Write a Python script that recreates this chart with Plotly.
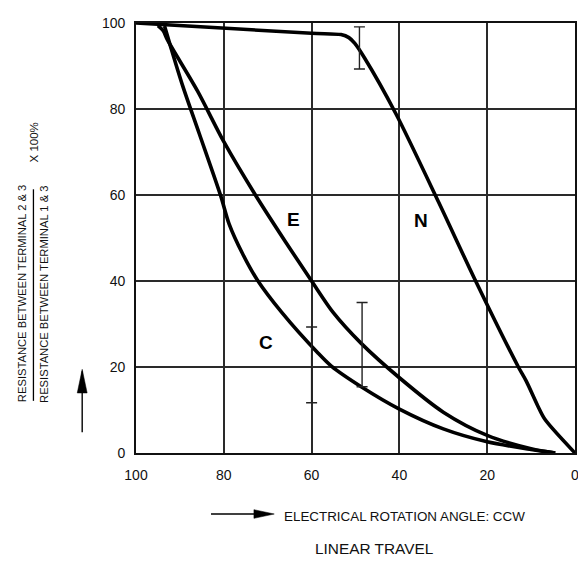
import plotly.graph_objects as go

# ---- data ----
ticks = [100, 80, 60, 40, 20, 0]
tick_text = ["100", "80", "60", "40", "20", "0"]

n_x = [100, 60, 53.3, 51.5, 50.2, 47.9, 40.8, 31, 23.1, 12.9, 11.1, 8.5, 6.9, 0]
n_y = [100, 97.6, 97.3, 96.6, 95.3, 91.8, 78.9, 58.2, 41.0, 20, 16.7, 11, 7.9, 0]

e_x = [95, 93.8, 92.8, 86, 80, 72.8, 66, 60, 55.1, 48.7, 40, 30, 20, 10, 4.5]
e_y = [99.4, 98.2, 96, 84.2, 72.4, 60, 49.2, 40, 32.7, 25.5, 17.5, 9.5, 4.1, 1.0, 0]

c_x = [93.5, 92.0, 89.4, 85.6, 80.7, 78.8, 75.8, 72.4, 66.8, 58.5, 55.5, 48.7, 40, 30, 20, 10, 4.5]
c_y = [99.3, 94.1, 85.5, 74.3, 59.8, 53.3, 46.5, 40.3, 32.7, 23.2, 20.2, 15.4, 10.2, 5.6, 2.6, 0.8, 0]

# tolerance bars: x position, low, high
tol_x = [60, 48.5, 49.1]
tol_lo = [11.7, 15.4, 89.3]
tol_hi = [29.3, 35.0, 99.1]

curve_labels = ["E", "N", "C"]
label_x = [64.1, 35.0, 70.3]
label_y = [54.4, 54.0, 25.7]

# ---- layout geometry (window pixels; page body has an 8px margin) ----
OFF = 8
WIN_W, WIN_H = 586, 562
L, R, T, B = 136, 579, 16, 453
W, H = WIN_W - OFF, WIN_H - OFF
def px(x):
    return (x - L) / (R - L)
def py(y):
    return (B - y) / (B - T)

SANS = "Liberation Sans, Arial, sans-serif"

fig = go.Figure()

for xs, ys in [(n_x, n_y), (e_x, e_y), (c_x, c_y)]:
    fig.add_trace(go.Scatter(x=xs, y=ys, mode="lines",
                             line=dict(color="black", width=3.6, shape="spline", smoothing=0.8),
                             cliponaxis=False, hoverinfo="skip", showlegend=False))

mid = [(lo + hi) / 2 for lo, hi in zip(tol_lo, tol_hi)]
half = [(hi - lo) / 2 for lo, hi in zip(tol_lo, tol_hi)]
fig.add_trace(go.Scatter(x=tol_x, y=mid, mode="markers",
                         marker=dict(size=1, color="rgba(0,0,0,0)"),
                         error_y=dict(type="data", array=half, symmetric=True,
                                      color="#222", thickness=1.4, width=5.5),
                         cliponaxis=False, hoverinfo="skip", showlegend=False))

for t, x, y in zip(curve_labels, label_x, label_y):
    fig.add_annotation(x=x, y=y, text="<b>%s</b>" % t, showarrow=False,
                       font=dict(family=SANS, size=19, color="black"))

# y-axis title as a fraction
fig.add_annotation(xref="paper", yref="paper", x=px(21), y=py(291.5), textangle=-90,
                   text="RESISTANCE BETWEEN TERMINAL 2 &amp; 3", showarrow=False,
                   xanchor="center", yanchor="middle",
                   font=dict(family=SANS, size=11.2, color="#111"))
fig.add_annotation(xref="paper", yref="paper", x=px(42.5), y=py(292), textangle=-90,
                   text="RESISTANCE BETWEEN TERMINAL 1 &amp; 3", showarrow=False,
                   xanchor="center", yanchor="middle",
                   font=dict(family=SANS, size=11.2, color="#111"))
fig.add_annotation(xref="paper", yref="paper", x=px(33), y=py(137.5), textangle=-90,
                   text="X 100%", showarrow=False, xanchor="center", yanchor="middle",
                   font=dict(family=SANS, size=11.5, color="#111"))
fig.add_shape(type="line", xref="paper", yref="paper", x0=px(32.5), x1=px(32.5),
              y0=py(185), y1=py(400), line=dict(color="black", width=1.3))

# vertical arrow
fig.add_shape(type="line", xref="paper", yref="paper", x0=px(81.7), x1=px(81.7),
              y0=py(432), y1=py(370), line=dict(color="black", width=1.4))
fig.add_shape(type="path", xref="paper", yref="paper",
              path="M %f %f L %f %f L %f %f Z" % (px(76.7), py(392), px(86.7), py(392), px(81.7), py(368)),
              fillcolor="black", line=dict(color="black", width=0.5))

# horizontal arrow
fig.add_shape(type="line", xref="paper", yref="paper", x0=px(211.7), x1=px(258),
              y0=py(515), y1=py(515), line=dict(color="black", width=1.4))
fig.add_shape(type="path", xref="paper", yref="paper",
              path="M %f %f L %f %f L %f %f Z" % (px(255), py(510.6), px(255), py(519.4), px(275.5), py(515)),
              fillcolor="black", line=dict(color="black", width=0.5))

fig.add_annotation(xref="paper", yref="paper", x=px(283), y=py(517.7),
                   text="ELECTRICAL ROTATION ANGLE: CCW", showarrow=False,
                   xanchor="left", yanchor="middle",
                   font=dict(family=SANS, size=13.4, color="#111"))
fig.add_annotation(xref="paper", yref="paper", x=px(376.7), y=py(550),
                   text="LINEAR TRAVEL", showarrow=False,
                   xanchor="center", yanchor="middle",
                   font=dict(family=SANS, size=15.4, color="#111"))

fig.update_xaxes(range=[100, 0], tickmode="array", tickvals=ticks, ticktext=tick_text,
                 showgrid=True, gridcolor="#2a2a2a", gridwidth=1.5,
                 showline=True, mirror=True, linecolor="#111", linewidth=1.8,
                 zeroline=False, ticks="", ticklabelstandoff=8,
                 tickfont=dict(family=SANS, size=14, color="#111"))
fig.update_yaxes(range=[0, 100], tickmode="array", tickvals=ticks, ticktext=tick_text,
                 showgrid=True, gridcolor="#2a2a2a", gridwidth=1.5,
                 showline=True, mirror=True, linecolor="#111", linewidth=1.8,
                 zeroline=False, ticks="", ticklabelstandoff=6,
                 tickfont=dict(family=SANS, size=14, color="#111"))

fig.update_layout(width=W, height=H,
                  margin=dict(l=L - OFF, r=WIN_W - R, t=T - OFF, b=WIN_H - B),
                  plot_bgcolor="white", paper_bgcolor="white", showlegend=False)

fig.write_html("out.html")
